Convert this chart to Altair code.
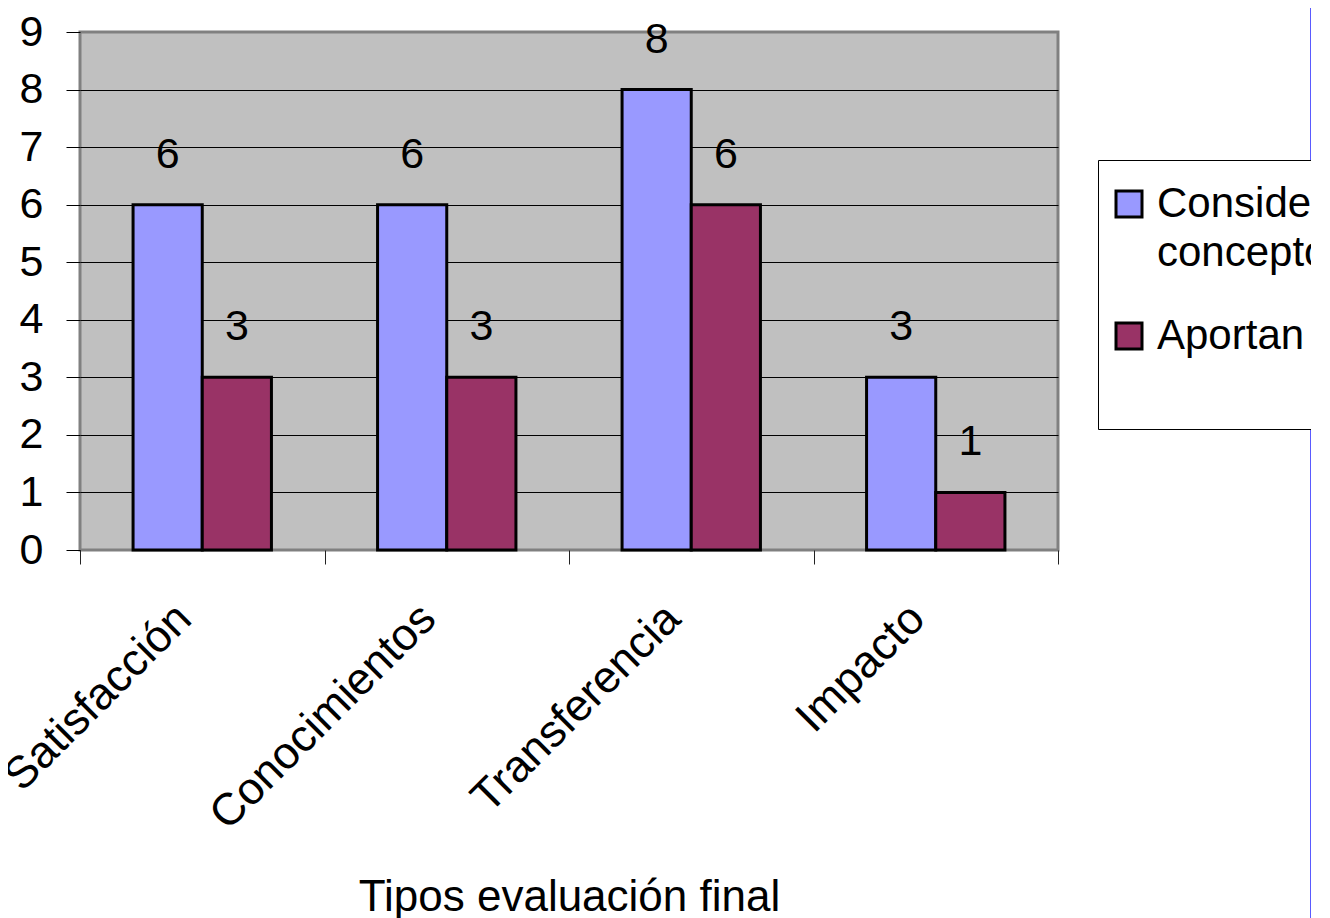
import altair as alt
import pandas as pd

# ---- data ----
categories = ["Satisfacción", "Conocimientos", "Transferencia", "Impacto"]
series_names = ["Consideran conceptos", "Aportan ideas"]
serie_1 = [6, 6, 8, 3]
serie_2 = [3, 3, 6, 1]
y_ticks = [0, 1, 2, 3, 4, 5, 6, 7, 8, 9]
x_title = "Tipos evaluación final"
colors = ["#9999FF", "#993366"]

rows = []
for c, a, b in zip(categories, serie_1, serie_2):
    rows.append({"cat": c, "serie": series_names[0], "valor": a})
    rows.append({"cat": c, "serie": series_names[1], "valor": b})
df = pd.DataFrame(rows)

FONT = "Liberation Sans"

x_enc = alt.X(
    "cat:N",
    sort=categories,
    scale=alt.Scale(paddingInner=0, paddingOuter=0),
    axis=alt.Axis(
        title=x_title,
        titleFontSize=44,
        titleFontWeight="normal",
        titleColor="black",
        titleFont=FONT,
        titleBaseline="alphabetic",
        titleY=360,
        titleX=489,
        labelAngle=315,
        labelAlign="right",
        labelBaseline="middle",
        labelFontSize=45,
        labelFont=FONT,
        labelColor="black",
        labelLimit=600,
        labelPadding=47,
        labelOffset=-19,
        tickSize=14,
        tickColor="#222222",
        tickWidth=1,
        tickBand="extent",
        domain=False,
        grid=False,
    ),
)

y_enc = alt.Y(
    "valor:Q",
    scale=alt.Scale(domain=[0, 9], nice=False),
    axis=alt.Axis(
        title=None,
        values=y_ticks,
        format="d",
        labelFontSize=43,
        labelFont=FONT,
        labelColor="black",
        labelPadding=23,
        tickSize=14,
        tickColor="black",
        tickWidth=1,
        domain=False,
        grid=True,
        gridColor="black",
        gridWidth=1,
        gridOpacity=alt.condition("datum.value == 0 || datum.value == 9", alt.value(0), alt.value(1)),
    ),
)

xoff = alt.XOffset(
    "serie:N", sort=series_names, scale=alt.Scale(paddingInner=0, paddingOuter=0.767)
)

base = alt.Chart(df)

bars = base.mark_bar(stroke="black", strokeWidth=3).encode(
    x=x_enc,
    xOffset=xoff,
    y=y_enc,
    color=alt.Color(
        "serie:N",
        sort=series_names,
        scale=alt.Scale(domain=series_names, range=colors),
        legend=alt.Legend(
            title=None,
            orient="none",
            legendX=1018,
            legendY=128,
            padding=23,
            fillColor="white",
            strokeColor="black",
            symbolType="square",
            symbolSize=676,
            symbolStrokeColor="black",
            symbolStrokeWidth=3,
            symbolOpacity=1,
            symbolOffset=-13,
            labelFontSize=42,
            labelFont=FONT,
            labelColor="black",
            labelLimit=3000,
            labelOffset=7,
            rowPadding=41,
            labelExpr="datum.label == 'Consideran conceptos' ? ['Consideran', 'conceptos'] : [datum.label, '']",
        ),
    ),
)

labels = base.mark_text(
    baseline="alphabetic", dy=-37, fontSize=43, font=FONT, color="black"
).encode(
    x=alt.X("cat:N", sort=categories),
    xOffset=xoff,
    y="valor:Q",
    text="valor:Q",
)

edge = alt.Chart(pd.DataFrame({"e": [0]})).mark_rule(color="#5a5aff", strokeWidth=1).encode(
    x=alt.value(1230.5), y=alt.value(-24), y2=alt.value(900)
)

chart = (
    alt.layer(edge, bars, labels)
    .properties(
        width=978,
        height=518,
        padding={"left": 72, "top": 24, "right": 253, "bottom": 370},
        autosize=alt.AutoSizeParams(type="none"),
        background="white",
    )
    .configure(font=FONT, style={"guide-label": {"lineHeight": 49}})
    .configure_view(fill="#C0C0C0", stroke="#808080", strokeWidth=3)
)

chart.save("out.html", embed_options={"renderer": "svg", "actions": False})
